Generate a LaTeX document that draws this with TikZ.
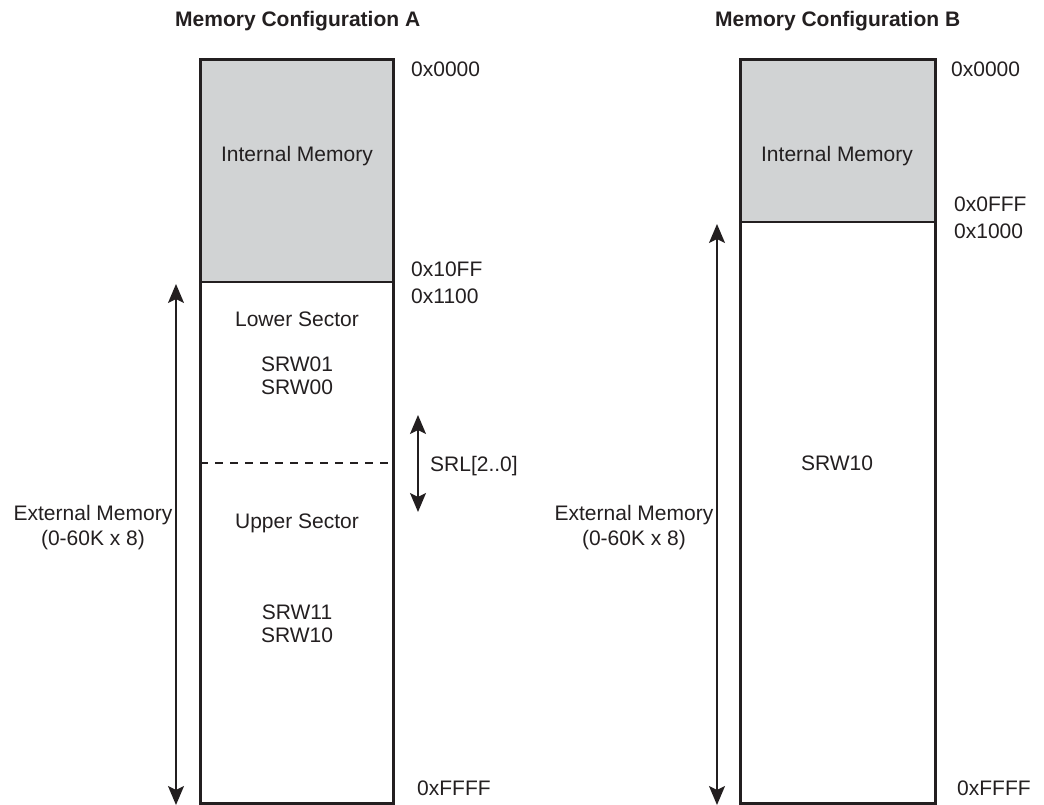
\documentclass[tikz,border=0pt]{standalone}
\usepackage{fontspec}
\setmainfont{Liberation Sans}
\usetikzlibrary{arrows.meta}
\definecolor{memgray}{HTML}{D1D3D4}
\definecolor{ink}{HTML}{231F20}
\begin{document}
\begin{tikzpicture}[x=1pt,y=-1pt]
  \tikzstyle{txt}=[inner sep=0pt, text=ink, font=\fontsize{21}{25}\selectfont]
  \tikzstyle{addr}=[txt, anchor=base west]
  \tikzstyle{field}=[txt, anchor=base]
  \tikzstyle{heading}=[txt, anchor=base west, font=\fontsize{21}{25}\selectfont\bfseries]
  \tikzstyle{outline}=[draw=ink, line width=3pt]
  \tikzstyle{divider}=[draw=ink, line width=1.5pt]
  \tikzstyle{memarrow}=[draw=ink, line width=1.5pt,
    {Stealth[length=19pt,width=16pt,inset=4pt]}-{Stealth[length=19pt,width=16pt,inset=4pt]}]

  \useasboundingbox (0,0) rectangle (1044,805);

  % configuration A
  \node[heading] (titleA) at (175, 27) {Memory Configuration A};
  \fill[memgray] (200, 60) rectangle (393, 282);
  \draw[divider] (200, 282) -- (393, 282);
  \draw[divider, dash pattern=on 8pt off 7pt] (200, 463) -- (393, 463);
  \draw[outline] (200, 60) rectangle (393, 803);

  \node[field] (intA)  at (297, 162) {Internal Memory};
  \node[field] (lowA)  at (297, 326) {Lower Sector};
  \node[field] (srw01) at (297, 371) {SRW01};
  \node[field] (srw00) at (297, 394) {SRW00};
  \node[field] (uppA)  at (297, 528) {Upper Sector};
  \node[field] (srw11) at (297, 619) {SRW11};
  \node[field] (srw10) at (297, 642) {SRW10};

  \node[addr] (a0000) at (411, 77)  {0x0000};
  \node[addr] (a10ff) at (411, 276) {0x10FF};
  \node[addr] (a1100) at (411, 303) {0x1100};
  \node[addr] (affffA) at (417, 795) {0xFFFF};
  \node[addr] (srl)   at (430, 471) {SRL[2..0]};

  \node[txt, align=center] (extA) at (93, 528) {External Memory\\(0-60K x 8)};

  \coordinate (extAtop) at (176, 284);
  \coordinate (extAbot) at (176, 805);
  \coordinate (srltop)  at (418, 415);
  \coordinate (srlbot)  at (418, 512);
  \draw[memarrow] (extAtop) -- (extAbot);
  \draw[memarrow] (srltop) -- (srlbot);

  % configuration B
  \node[heading] (titleB) at (715, 27) {Memory Configuration B};
  \fill[memgray] (740, 60) rectangle (935, 222);
  \draw[divider] (740, 222) -- (935, 222);
  \draw[outline] (740, 60) rectangle (935, 803);

  \node[field] (intB)   at (837, 162) {Internal Memory};
  \node[field] (srw10B) at (837, 470) {SRW10};

  \node[addr] (b0000) at (951, 77)  {0x0000};
  \node[addr] (b0fff) at (954, 212) {0x0FFF};
  \node[addr] (b1000) at (954, 238) {0x1000};
  \node[addr] (bffff) at (957, 795) {0xFFFF};

  \node[txt, align=center] (extB) at (634, 528) {External Memory\\(0-60K x 8)};

  \coordinate (extBtop) at (717, 224);
  \coordinate (extBbot) at (717, 805);
  \draw[memarrow] (extBtop) -- (extBbot);

\end{tikzpicture}
\end{document}
